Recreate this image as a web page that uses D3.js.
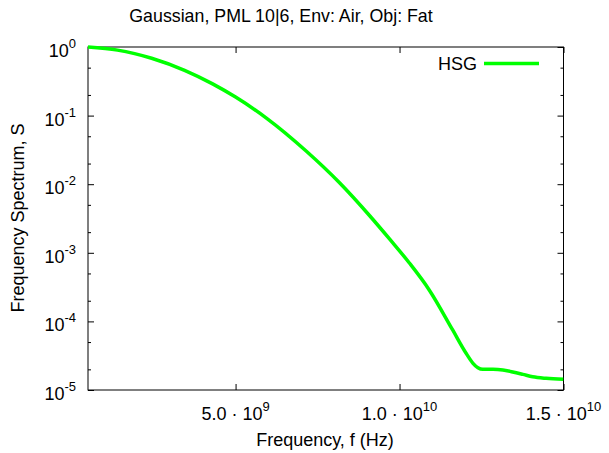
<!DOCTYPE html>
<html>
<head>
<meta charset="utf-8">
<script src="https://cdn.jsdelivr.net/npm/d3@7"></script>
<style>
  body { margin: 0; background: #fff; }
  text { font-family: "Liberation Sans", Arial, Helvetica, sans-serif; fill: #000; }
</style>
</head>
<body>
<svg id="chart" width="609" height="453"></svg>
<script>
// Frequency samples (GHz) and the HSG spectrum magnitude at each one
const freqGHz = [0.5, 1.4, 1.92, 2.44, 3.445, 4.3, 5.0, 5.95, 7.16, 8.17, 9.09, 9.70,
  10.3, 10.9, 11.62, 12.03, 12.24, 12.39, 12.54, 12.85, 13.15, 13.45, 13.76, 14.06, 14.47, 15.0];
const hsg = [1.0, 0.90, 0.80, 0.685, 0.457, 0.29, 0.186, 0.0912, 0.0302, 0.0105, 0.00347, 0.00158,
  7.1e-4, 2.9e-4, 7.5e-5, 3.43e-5, 2.45e-5, 2.11e-5, 2.0e-5, 2.0e-5, 1.96e-5, 1.83e-5, 1.69e-5, 1.56e-5, 1.48e-5, 1.43e-5];

// Axis ticks
const xTicks = [5e9, 1e10, 1.5e10];
const xTickMant = ["5.0", "1.0", "1.5"];
const xTickExp = ["9", "10", "10"];
const yTickExp = [0, -1, -2, -3, -4, -5];

const titleText = "Gaussian, PML 10|6, Env: Air, Obj: Fat";
const xLabel = "Frequency, f (Hz)";
const yLabel = "Frequency Spectrum, S";
const seriesName = "HSG";

const svg = d3.select("#chart");
const m = { left: 88, right: 563.5, top: 47, bottom: 390 };

const x = d3.scaleLinear().domain([5e8, 1.5e10]).range([m.left, m.right]);
const y = d3.scaleLog().domain([1e-5, 1]).range([m.bottom, m.top]);

// Minor ticks at 2 and 5 within every decade
const yMinor = [];
for (let e = -5; e < 0; e++) { yMinor.push(2 * Math.pow(10, e), 5 * Math.pow(10, e)); }
const yMajor = yTickExp.map(e => Math.pow(10, e));

const g = svg.append("g");

function tickAxis(axis, transform, values, size) {
  const a = g.append("g").attr("transform", transform)
    .call(axis.tickValues(values).tickSize(size).tickFormat(""));
  a.select(".domain").remove();
  a.selectAll("line").attr("stroke", "#000").attr("stroke-width", 1);
}

tickAxis(d3.axisLeft(y), `translate(${m.left},0)`, yMajor, -6);
tickAxis(d3.axisLeft(y), `translate(${m.left},0)`, yMinor, -3);
tickAxis(d3.axisRight(y), `translate(${m.right},0)`, yMajor, -6);
tickAxis(d3.axisRight(y), `translate(${m.right},0)`, yMinor, -3);
tickAxis(d3.axisBottom(x), `translate(0,${m.bottom})`, xTicks, -6);
tickAxis(d3.axisTop(x), `translate(0,${m.top})`, xTicks, -6);

// Frame
g.append("rect")
  .attr("x", m.left).attr("y", m.top)
  .attr("width", m.right - m.left).attr("height", m.bottom - m.top)
  .attr("fill", "none").attr("stroke", "#000").attr("stroke-width", 1);

// Y tick labels: 10^k
yTickExp.forEach(e => {
  const t = g.append("text")
    .attr("x", 76).attr("y", y(Math.pow(10, e)) + 10)
    .attr("text-anchor", "end").attr("font-size", 18);
  t.append("tspan").text("10");
  t.append("tspan").attr("font-size", 13).attr("dy", -9).text(String(e));
});

// X tick labels: m · 10^k
xTicks.forEach((v, i) => {
  const t = g.append("text")
    .attr("x", x(v)).attr("y", 420)
    .attr("text-anchor", "middle").attr("font-size", 18);
  t.append("tspan").text(xTickMant[i] + " \u00b7 10");
  t.append("tspan").attr("font-size", 13).attr("dy", -9).text(xTickExp[i]);
});

// Titles
svg.append("text").attr("x", 281).attr("y", 22).attr("text-anchor", "middle")
  .attr("font-size", 17.8).text(titleText);
svg.append("text").attr("x", 325).attr("y", 446).attr("text-anchor", "middle")
  .attr("font-size", 18).text(xLabel);
svg.append("text").attr("transform", "translate(24,218) rotate(-90)")
  .attr("text-anchor", "middle").attr("font-size", 18).text(yLabel);

// Spectrum curve
const data = freqGHz.map((f, i) => ({ f: f * 1e9, s: hsg[i] }));
const line = d3.line().x(d => x(d.f)).y(d => y(d.s)).curve(d3.curveMonotoneX);
svg.append("defs").append("clipPath").attr("id", "plotClip")
  .append("rect").attr("x", m.left).attr("y", m.top - 2)
  .attr("width", m.right - m.left).attr("height", m.bottom - m.top + 4);
svg.append("path").datum(data)
  .attr("clip-path", "url(#plotClip)")
  .attr("d", line).attr("fill", "none")
  .attr("stroke", "#00ff00").attr("stroke-width", 3.5)
  .attr("stroke-linejoin", "round");

// Legend
svg.append("text").attr("x", 477).attr("y", 70).attr("text-anchor", "end")
  .attr("font-size", 18).text(seriesName);
svg.append("line").attr("x1", 484).attr("x2", 539).attr("y1", 63.5).attr("y2", 63.5)
  .attr("stroke", "#00ff00").attr("stroke-width", 3.5);
</script>
</body>
</html>
